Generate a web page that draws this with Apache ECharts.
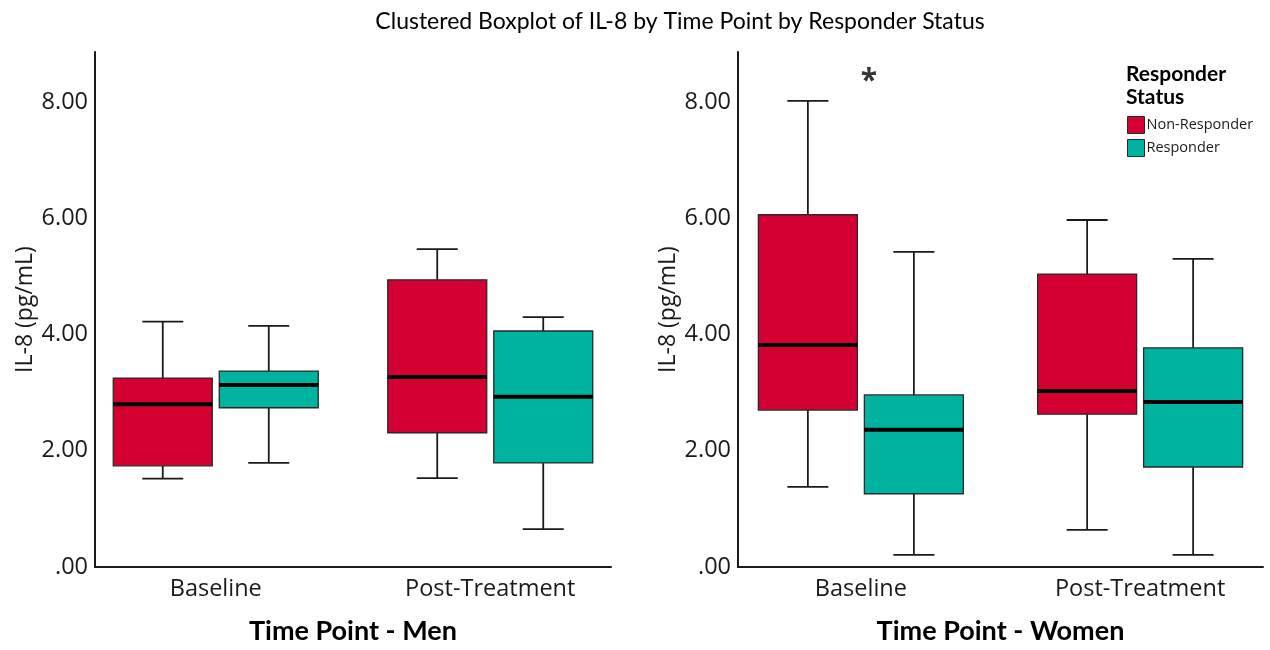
<!DOCTYPE html>
<html>
<head>
<meta charset="utf-8">
<script src="https://cdn.jsdelivr.net/npm/echarts@6/dist/echarts.min.js"></script>
<style>html,body{margin:0;padding:0;background:#fff}#c{width:1270px;height:650px}</style>
</head>
<body>
<div id="c"></div>
<script>
// ---- data (min, Q1, median, Q3, max) ----
const categories = ['Baseline', 'Post-Treatment'];
const seriesNames = ['Non-Responder', 'Responder'];
const menNonResponder   = [[1.52, 1.74, 2.80, 3.25, 4.22], [1.53, 2.31, 3.27, 4.94, 5.47]];
const menResponder      = [[1.79, 2.74, 3.13, 3.37, 4.15], [0.65, 1.79, 2.93, 4.06, 4.30]];
const womenNonResponder = [[1.38, 2.70, 3.82, 6.06, 8.02], [0.64, 2.63, 3.03, 5.04, 5.97]];
const womenResponder    = [[0.21, 1.26, 2.36, 2.96, 5.42], [0.21, 1.72, 2.84, 3.77, 5.30]];
const womenOutliers     = [[0, 8.47]];
const yTicks = [0, 2, 4, 6, 8];

const RED = '#D50032', TEAL = '#00B3A0';
const FONT = 'Open Sans';
const TITLE_FONT = 'Lato';

function render(pxOffset) {
  return function (params, api) {
    const cx = api.coord([api.value(0), 0])[0] + pxOffset;
    const yMin = api.coord([0, api.value(1)])[1];
    const yQ1 = api.coord([0, api.value(2)])[1];
    const yMed = api.coord([0, api.value(3)])[1];
    const yQ3 = api.coord([0, api.value(4)])[1];
    const yMax = api.coord([0, api.value(5)])[1];
    const bw = 99, cw = 41;
    const color = api.visual('color');
    const ls = {stroke: '#1a1a1a', lineWidth: 1.8};
    return {
      type: 'group',
      children: [
        {type: 'line', shape: {x1: cx, y1: yMax, x2: cx, y2: yQ3}, style: ls},
        {type: 'line', shape: {x1: cx, y1: yQ1, x2: cx, y2: yMin}, style: ls},
        {type: 'line', shape: {x1: cx - cw / 2, y1: yMax, x2: cx + cw / 2, y2: yMax}, style: ls},
        {type: 'line', shape: {x1: cx - cw / 2, y1: yMin, x2: cx + cw / 2, y2: yMin}, style: ls},
        {type: 'rect', shape: {x: cx - bw / 2, y: yQ3, width: bw, height: yQ1 - yQ3},
         style: {fill: color, stroke: '#2a2a2a', lineWidth: 1.3}},
        {type: 'line', shape: {x1: cx - bw / 2, y1: yMed, x2: cx + bw / 2, y2: yMed},
         style: {stroke: '#000', lineWidth: 4}}
      ]
    };
  };
}

function toData(arr) { return arr.map((v, i) => [i].concat(v)); }

function xAxis(gridIndex, name) {
  return {
    type: 'value', gridIndex, min: -0.44, max: 1.44,
    name, nameLocation: 'middle', nameGap: 51,
    nameTextStyle: {fontFamily: TITLE_FONT, fontWeight: 'bold', fontSize: 27, color: '#000'},
    axisLine: {show: true, onZero: false, lineStyle: {color: '#1a1a1a', width: 2}},
    axisTick: {show: false},
    splitLine: {show: false},
    axisLabel: {
      customValues: [0, 1],
      formatter: v => categories[Math.round(v)] || '',
      fontFamily: FONT, fontSize: 23.5, color: '#1a1a1a', margin: 10
    }
  };
}
function yAxis(gridIndex) {
  return {
    type: 'value', gridIndex, min: 0, max: 8.86, interval: 2,
    name: 'IL-8 (pg/mL)', nameLocation: 'middle', nameGap: 58, nameRotate: 90,
    nameTextStyle: {fontFamily: FONT, fontSize: 23, color: '#1a1a1a'},
    axisLine: {show: true, onZero: false, lineStyle: {color: '#1a1a1a', width: 2}},
    axisTick: {show: false},
    splitLine: {show: false},
    axisLabel: {
      showMaxLabel: false,
      formatter: v => yTicks.indexOf(v) >= 0 ? (v === 0 ? '.00' : v.toFixed(2)) : '',
      fontFamily: FONT, fontSize: 23.5, color: '#1a1a1a', margin: 7
    }
  };
}

function boxSeries(name, arr, xi, color, off) {
  return {
    type: 'custom', name, xAxisIndex: xi, yAxisIndex: xi,
    itemStyle: {color},
    renderItem: render(off),
    encode: {x: 0, y: [1, 2, 3, 4, 5]},
    data: toData(arr)
  };
}

const chart = echarts.init(document.getElementById('c'));
chart.setOption({
  animation: false,
  backgroundColor: '#fff',
  title: {
    text: 'Clustered Boxplot of IL-8 by Time Point by Responder Status',
    left: 675, textAlign: 'center', top: 5,
    textStyle: {fontFamily: TITLE_FONT, fontWeight: 'normal', fontSize: 23, color: '#000'}
  },
  grid: [
    {left: 95, width: 516, top: 52, height: 515, outerBoundsMode: 'none', containLabel: false},
    {left: 738, width: 525, top: 52, height: 515, outerBoundsMode: 'none', containLabel: false}
  ],
  xAxis: [xAxis(0, 'Time Point - Men'), xAxis(1, 'Time Point - Women')],
  yAxis: [yAxis(0), yAxis(1)],
  legend: {
    data: seriesNames,
    orient: 'vertical', left: 1122, top: 111, itemGap: 5,
    itemWidth: 17, itemHeight: 17, icon: 'rect',
    itemStyle: {borderColor: '#2a2a2a', borderWidth: 1},
    textStyle: {fontFamily: FONT, fontSize: 14.5, color: '#1a1a1a', padding: [0, 0, 0, -3]}
  },
  graphic: [{
    type: 'text', left: 1126, top: 63,
    style: {text: 'Responder\nStatus', font: 'bold 21px "' + TITLE_FONT + '"', fill: '#000', lineHeight: 23}
  }],
  series: [
    boxSeries(seriesNames[0], menNonResponder, 0, RED, -53),
    boxSeries(seriesNames[1], menResponder, 0, TEAL, 53),
    boxSeries(seriesNames[0], womenNonResponder, 1, RED, -53),
    boxSeries(seriesNames[1], womenResponder, 1, TEAL, 53),
    {
      type: 'scatter', name: 'Outliers', xAxisIndex: 1, yAxisIndex: 1,
      symbolSize: 0, data: womenOutliers,
      label: {show: true, formatter: '*', position: 'inside', offset: [8, 7],
              fontFamily: FONT, fontWeight: 'bold', fontSize: 30, color: '#000'}
    }
  ]
});
</script>
</body>
</html>
